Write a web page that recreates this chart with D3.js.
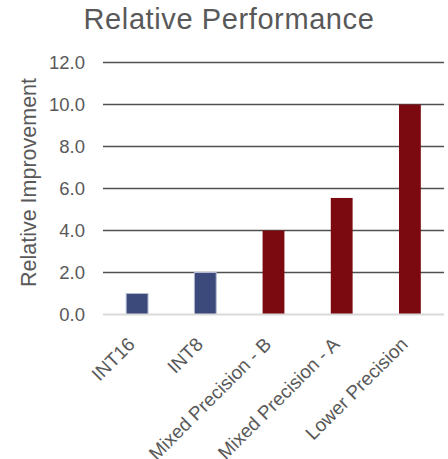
<!DOCTYPE html>
<html>
<head>
<meta charset="utf-8">
<script src="https://cdn.jsdelivr.net/npm/d3@7"></script>
<style>
  html, body { margin: 0; padding: 0; background: #fff; }
  svg { display: block; font-family: "Liberation Sans", Arial, sans-serif; }
</style>
</head>
<body>
<svg id="chart" width="448" height="459"></svg>
<script>
// Chart data
const categories = ["INT16", "INT8", "Mixed Precision - B", "Mixed Precision - A", "Lower Precision"];
const values = [1.0, 2.0, 4.0, 5.55, 10.0];
const groups = ["int", "int", "mixed", "mixed", "mixed"];
const yTicks = [0, 2, 4, 6, 8, 10, 12];

const colors = { int: "#3b4a7b", mixed: "#7a0a10" };
const strokeColors = { int: "#b4bad2", mixed: "none" };
const textColor = "#595959";
const font = "\"Liberation Sans\", Arial, sans-serif";

const svg = d3.select("#chart");
const margin = { left: 103, right: 4 };
const W = 448;

const x = d3.scaleBand()
  .domain(categories)
  .range([margin.left, W - margin.right])
  .paddingInner(0.68)
  .paddingOuter(0.34);

const y = d3.scaleLinear()
  .domain([0, 12])
  .range([314.5, 62.5]);

// Title
svg.append("text")
  .attr("x", 229)
  .attr("y", 28.5)
  .attr("text-anchor", "middle")
  .attr("fill", textColor)
  .style("font-size", "29px")
  .style("letter-spacing", "0.6px")
  .text("Relative Performance");

// Gridlines
svg.append("g")
  .selectAll("line")
  .data(yTicks.filter(d => d > 0))
  .join("line")
  .attr("x1", margin.left)
  .attr("x2", W - margin.right)
  .attr("y1", d => y(d))
  .attr("y2", d => y(d))
  .attr("stroke", "#505050")
  .attr("stroke-width", 1.3);

// Y axis labels
const yAxis = d3.axisLeft(y)
  .tickValues(yTicks)
  .tickFormat(d3.format(".1f"))
  .tickSize(0)
  .tickPadding(18);
const gy = svg.append("g")
  .attr("transform", `translate(${margin.left},0)`)
  .call(yAxis);
gy.select(".domain").remove();
gy.selectAll("text")
  .attr("fill", textColor)
  .style("font-size", "18.5px")
  .style("font-family", font);

// Y axis title
svg.append("text")
  .attr("transform", "translate(36,182.5) rotate(-90)")
  .attr("text-anchor", "middle")
  .attr("fill", textColor)
  .style("font-size", "21.5px")
  .text("Relative Improvement");

// Bars
svg.append("g")
  .selectAll("rect")
  .data(categories.map((c, i) => ({ c, v: values[i], g: groups[i] })))
  .join("rect")
  .attr("x", d => x(d.c))
  .attr("width", x.bandwidth())
  .attr("y", d => y(d.v))
  .attr("height", d => y(0) - y(d.v))
  .attr("fill", d => colors[d.g])
  .attr("stroke", d => strokeColors[d.g])
  .attr("stroke-width", 1);

// Baseline
svg.append("line")
  .attr("x1", margin.left)
  .attr("x2", W - margin.right)
  .attr("y1", y(0))
  .attr("y2", y(0))
  .attr("stroke", "#d9d9d9")
  .attr("stroke-width", 2);

// X axis labels
const xAxis = d3.axisBottom(x).tickSize(0).tickPadding(0);
const gx = svg.append("g")
  .attr("transform", `translate(0,${y(0)})`)
  .call(xAxis);
gx.select(".domain").remove();
gx.selectAll("text")
  .attr("fill", textColor)
  .style("font-size", "19px")
  .style("font-family", font)
  .attr("text-anchor", "end")
  .attr("dy", "0")
  .attr("transform", "translate(-1,31) rotate(-45)");
</script>
</body>
</html>
